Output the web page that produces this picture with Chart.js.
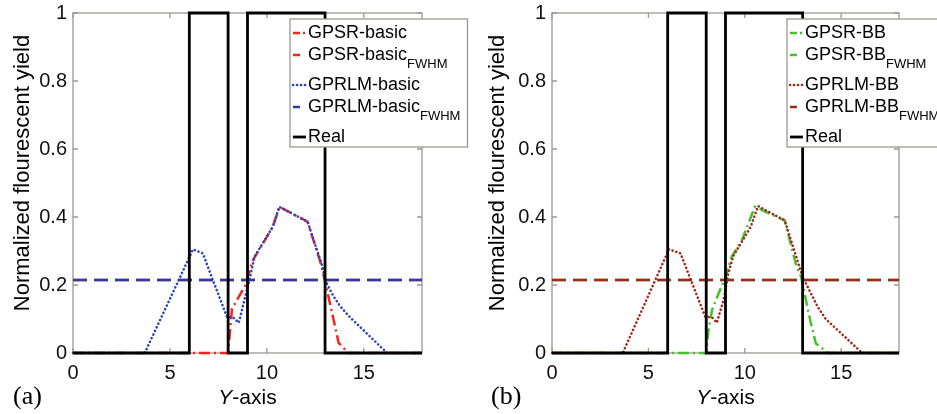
<!DOCTYPE html>
<html>
<head>
<meta charset="utf-8">
<script src="https://cdn.jsdelivr.net/npm/chart.js@4.4.0/dist/chart.umd.min.js"></script>
<style>
  body { margin: 0; background: #fff; width: 937px; height: 414px; overflow: hidden; position: relative; }
  canvas { position: absolute; top: 0; }
  #chartA { left: 0; }
  #chartB { left: 479px; }
</style>
</head>
<body>
<canvas id="chartA" width="479" height="414"></canvas>
<canvas id="chartB" width="458" height="414"></canvas>
<script>
// values
const xTicks = [0, 5, 10, 15];
const yTicks = [0, 0.2, 0.4, 0.6, 0.8, 1];

const realX = [0, 6, 6, 8, 8, 9, 9, 13, 13, 18];
const realY = [0, 0, 1, 1, 0, 0, 1, 1, 0, 0];

const fwhmX = [0, 18];
const fwhmY = [0.215, 0.215];

const gpsrBasicX = [0, 8.0, 8.2, 8.55, 8.9, 9.25, 9.4, 10.3, 10.65, 12.1, 12.8, 13.0, 13.2, 13.7, 14.2, 18];
const gpsrBasicY = [0, 0, 0.13, 0.165, 0.2, 0.27, 0.285, 0.37, 0.43, 0.386, 0.26, 0.21, 0.16, 0.03, 0, 0];

const gprlmBasicX = [0, 3.7, 6.19, 6.7, 7.21, 7.95, 8.25, 8.55, 8.9, 9.1, 9.36, 10.3, 10.64, 12.1, 12.87, 13.0, 13.4, 13.75, 14.2, 16.2, 18];
const gprlmBasicY = [0, 0, 0.305, 0.293, 0.215, 0.105, 0.105, 0.089, 0.17, 0.215, 0.283, 0.371, 0.43, 0.386, 0.254, 0.215, 0.17, 0.14, 0.11, 0, 0];

const gpsrBBX = [0, 8.0, 8.12, 8.3, 8.64, 8.98, 9.32, 9.84, 10.52, 12.07, 12.66, 12.92, 13.43, 13.69, 14.12, 14.3, 18];
const gpsrBBY = [0, 0, 0.068, 0.126, 0.175, 0.22, 0.283, 0.33, 0.43, 0.39, 0.259, 0.224, 0.087, 0.028, 0.009, 0, 0];

const gprlmBBX = [0, 3.67, 6.07, 6.67, 7.2, 7.95, 8.3, 8.55, 8.9, 9.15, 9.4, 10.3, 10.69, 12.07, 13.0, 13.78, 14.2, 16.09, 18];
const gprlmBBY = [0, 0, 0.305, 0.293, 0.215, 0.107, 0.105, 0.089, 0.156, 0.235, 0.285, 0.37, 0.432, 0.39, 0.224, 0.136, 0.10, 0, 0];

const namesA = ['GPSR-basic', 'GPSR-basic', 'GPRLM-basic', 'GPRLM-basic', 'Real'];
const namesB = ['GPSR-BB', 'GPSR-BB', 'GPRLM-BB', 'GPRLM-BB', 'Real'];
const subs = ['', 'FWHM', '', 'FWHM', ''];

const SANS = '"Liberation Sans", Arial, sans-serif';

function series(xs, ys) {
  return xs.map((x, i) => ({ x: x, y: ys[i] }));
}

// grey box with inward tick marks
const boxFrame = {
  id: 'boxFrame',
  beforeDatasetsDraw(chart) {
    const ctx = chart.ctx, a = chart.chartArea, sx = chart.scales.x, sy = chart.scales.y;
    ctx.save();
    ctx.setLineDash([]);
    ctx.strokeStyle = '#9c9794';
    ctx.lineWidth = 1.3;
    ctx.strokeRect(a.left, a.top, a.right - a.left, a.bottom - a.top);
    ctx.beginPath();
    xTicks.forEach(v => {
      const px = sx.getPixelForValue(v);
      ctx.moveTo(px, a.bottom); ctx.lineTo(px, a.bottom - 5);
      ctx.moveTo(px, a.top); ctx.lineTo(px, a.top + 5);
    });
    yTicks.forEach(v => {
      const py = sy.getPixelForValue(v);
      ctx.moveTo(a.left, py); ctx.lineTo(a.left + 5, py);
      ctx.moveTo(a.right, py); ctx.lineTo(a.right - 5, py);
    });
    ctx.stroke();
    ctx.restore();
  }
};

// boxed legend with subscripts
const panelLegend = {
  id: 'panelLegend',
  afterDatasetsDraw(chart, args, opts) {
    const ctx = chart.ctx;
    const sets = chart.data.datasets;
    const mainFont = '18px ' + SANS, subFont = '13px ' + SANS;
    ctx.save();
    let w = 0;
    sets.forEach((ds, i) => {
      ctx.font = mainFont;
      let tw = ctx.measureText(ds.label).width;
      if (subs[i]) { ctx.font = subFont; tw += ctx.measureText(subs[i]).width; }
      w = Math.max(w, tw);
    });
    const bx = opts.left, by = opts.top, bw = w + 25, bh = 128;
    const rows = [14, 36, 66, 88, 118];
    ctx.fillStyle = '#fff';
    ctx.fillRect(bx, by, bw, bh);
    ctx.strokeStyle = '#9c9794';
    ctx.lineWidth = 1.3;
    ctx.strokeRect(bx, by, bw, bh);
    sets.forEach((ds, i) => {
      const y = by + rows[i];
      ctx.beginPath();
      ctx.strokeStyle = ds.borderColor;
      ctx.lineWidth = ds.borderWidth;
      ctx.lineCap = ds.borderCapStyle || 'butt';
      ctx.setLineDash(ds.legendDash || ds.borderDash || []);
      ctx.moveTo(bx + 3, y);
      ctx.lineTo(bx + 16, y);
      ctx.stroke();
      ctx.setLineDash([]);
      ctx.fillStyle = '#000';
      ctx.textBaseline = 'middle';
      ctx.textAlign = 'left';
      ctx.font = mainFont;
      ctx.fillText(ds.label, bx + 18, y);
      if (subs[i]) {
        const tw = ctx.measureText(ds.label).width;
        ctx.font = subFont;
        ctx.fillText(subs[i], bx + 18 + tw, y + 9);
      }
    });
    ctx.restore();
  }
};

// axis titles and panel tag
const panelText = {
  id: 'panelText',
  afterDraw(chart, args, opts) {
    const { ctx, chartArea: a } = chart;
    ctx.save();
    ctx.fillStyle = '#000';
    ctx.textBaseline = 'middle';
    // x title: italic Y + "-axis"
    const cx = (a.left + a.right) / 2;
    ctx.font = 'italic 21px ' + SANS;
    const w1 = ctx.measureText('Y').width;
    ctx.font = '21px ' + SANS;
    const w2 = ctx.measureText('-axis').width;
    const x0 = cx - (w1 + w2) / 2;
    ctx.textAlign = 'left';
    ctx.font = 'italic 21px ' + SANS;
    ctx.fillText('Y', x0, 398);
    ctx.font = '21px ' + SANS;
    ctx.fillText('-axis', x0 + w1, 398);
    // y title
    ctx.save();
    ctx.translate(opts.yTitleX, 173);
    ctx.rotate(-Math.PI / 2);
    ctx.textAlign = 'center';
    ctx.font = '22px ' + SANS;
    ctx.fillText('Normalized flourescent yield', 0, 0);
    ctx.restore();
    // panel tag
    ctx.textAlign = 'left';
    ctx.font = '26px "Liberation Serif", "Times New Roman", serif';
    ctx.fillText(opts.tag, opts.tagX, 397);
    ctx.restore();
  }
};

function line(label, xs, ys, color, width, dash, order, extra) {
  return Object.assign({
    label: label,
    data: series(xs, ys),
    borderColor: color,
    borderWidth: width,
    borderDash: dash,
    pointRadius: 0,
    tension: 0,
    fill: false,
    clip: false,
    order: order
  }, extra || {});
}

function makeChart(id, datasets, padRight, legendLeft, yTitleX, tag, tagX) {
  return new Chart(document.getElementById(id), {
    type: 'line',
    data: { datasets: datasets },
    options: {
      responsive: false,
      animation: false,
      events: [],
      layout: { padding: { left: 0, top: 13, right: padRight, bottom: 0 } },
      plugins: {
        legend: { display: false },
        tooltip: { enabled: false },
        panelLegend: { left: legendLeft, top: 19 },
        panelText: { yTitleX: yTitleX, tag: tag, tagX: tagX }
      },
      scales: {
        x: {
          type: 'linear',
          min: 0,
          max: 18,
          grid: { display: false, drawTicks: false },
          border: { display: false },
          afterBuildTicks: s => { s.ticks = xTicks.map(v => ({ value: v })); },
          afterFit: s => { s.height = 61; s.paddingLeft = 0; s.paddingRight = 0; },
          ticks: { font: { size: 20, family: SANS }, color: '#111', padding: 8, maxRotation: 0 }
        },
        y: {
          min: 0,
          max: 1,
          grid: { display: false, drawTicks: false },
          border: { display: false },
          afterBuildTicks: s => { s.ticks = yTicks.map(v => ({ value: v })); },
          afterFit: s => { s.width = 73; s.paddingTop = 0; s.paddingBottom = 0; },
          ticks: {
            font: { size: 20, family: SANS }, color: '#111', padding: 6,
            callback: v => String(Math.round(v * 10) / 10)
          }
        }
      }
    },
    plugins: [boxFrame, panelLegend, panelText]
  });
}

const red = '#f3261c', blueDot = '#2d44bc', blueDash = '#2a3ea6';
const green = '#45c02c', darkRed = '#a3281b';
const dashDot = [11, 4, 2, 4], dashed = [14, 7], dotted = [0.1, 3.9];
const dotExtra = { borderCapStyle: 'round' };

makeChart('chartA', [
  line(namesA[0], gpsrBasicX, gpsrBasicY, red, 2.5, dashDot, 4, { legendDash: [7, 3, 2, 3] }),
  line(namesA[1], fwhmX, fwhmY, red, 2.5, dashed, 3, { legendDash: [7, 20] }),
  line(namesA[2], gprlmBasicX, gprlmBasicY, blueDot, 2.6, dotted, 2, dotExtra),
  line(namesA[3], fwhmX, fwhmY, blueDash, 2.5, dashed, 1, { legendDash: [7, 20] }),
  line(namesA[4], realX, realY, '#000', 2.8, [], 0)
], 57, 290, 23, '(a)', 13);

makeChart('chartB', [
  line(namesB[0], gpsrBBX, gpsrBBY, green, 2.5, dashDot, 4, { legendDash: [7, 3, 2, 3] }),
  line(namesB[1], fwhmX, fwhmY, green, 2.5, dashed, 3, { legendDash: [7, 20] }),
  line(namesB[2], gprlmBBX, gprlmBBY, darkRed, 2.6, dotted, 2, dotExtra),
  line(namesB[3], fwhmX, fwhmY, darkRed, 2.5, dashed, 1, { legendDash: [7, 20] }),
  line(namesB[4], realX, realY, '#000', 2.8, [], 0)
], 38, 308, 19, '(b)', 12);
</script>
</body>
</html>
